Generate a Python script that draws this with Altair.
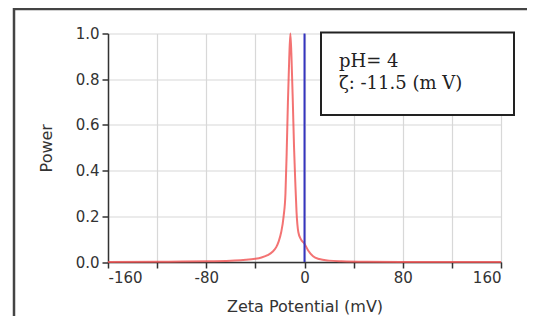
import altair as alt
import pandas as pd

# Red curve: zeta potential distribution
zeta = [-160, -120, -100, -80, -60, -50, -40, -35, -30, -26, -23, -21, -19, -17,
        -15.5, -14.5, -13.5, -12.5, -11.5, -10.5, -9.5, -8.5, -7.5, -6.5, -5, -3,
        0, 3, 7, 12, 20, 30, 50, 80, 120, 160]
power = [0, 0.001, 0.002, 0.003, 0.006, 0.009, 0.014, 0.02, 0.03, 0.045, 0.065,
         0.09, 0.13, 0.2, 0.3, 0.48, 0.7, 0.88, 1.0, 0.88, 0.7, 0.5, 0.35, 0.22,
         0.13, 0.1, 0.08, 0.05, 0.025, 0.013, 0.006, 0.003, 0.001, 0.0005, 0, 0]

# Blue reference line at 0 mV
ref_x = [0, 0]
ref_y = [0, 1]

x_ticks = list(range(-160, 161, 20))
y_ticks = [i / 10 for i in range(0, 11)]
legend_lines = ["pH= 4", "ζ: -11.5 (m V)"]

W, H = 393, 228.5

curve_df = pd.DataFrame({"zeta": zeta, "power": power})
ref_df = pd.DataFrame({"zeta": ref_x, "power": ref_y})

xscale = alt.Scale(domain=[-160, 160], nice=False, zero=False)
yscale = alt.Scale(domain=[0, 1], nice=False)

xaxis = alt.Axis(
    values=x_ticks,
    labelExpr="datum.value % 80 == 0 ? replace(datum.label, '\u2212', '-') : ''",
    title="Zeta Potential (mV)",
    titleY=49, titleBaseline="alphabetic",
    labelPadding=2,
)
yaxis = alt.Axis(
    values=y_ticks,
    labelExpr="round(datum.value * 10) % 2 == 0 ? format(datum.value, '.1f') : ''",
    title="Power",
    titleX=-57, titleY=H / 2, titleBaseline="alphabetic",
    labelPadding=3,
)

one = pd.DataFrame({"a": [0]})

frame_top = alt.Chart(one).mark_rule(color="#444444", strokeWidth=2.5).encode(
    x=alt.value(-95), x2=alt.value(430), y=alt.value(-24.5)
)
frame_left = alt.Chart(one).mark_rule(color="#444444", strokeWidth=2.5).encode(
    x=alt.value(-94), y=alt.value(-25.5), y2=alt.value(300)
)

curve = alt.Chart(curve_df).mark_line(
    color="#f05050", strokeWidth=2, opacity=0.8, interpolate="monotone"
).encode(
    x=alt.X("zeta:Q", scale=xscale, axis=xaxis),
    y=alt.Y("power:Q", scale=yscale, axis=yaxis),
)

ref = alt.Chart(ref_df).mark_line(color="#3535c0", strokeWidth=2).encode(
    x=alt.X("zeta:Q", scale=xscale),
    y=alt.Y("power:Q", scale=yscale),
)

box = alt.Chart(one).mark_rect(
    fill="white", stroke="#222222", strokeWidth=2
).encode(
    x=alt.value(213), x2=alt.value(406), y=alt.value(-1), y2=alt.value(81.5)
)

def text_layer(s, ypix):
    return alt.Chart(pd.DataFrame({"t": [s]})).mark_text(
        align="left", baseline="alphabetic", font="DejaVu Serif", fontSize=18,
        color="#222222"
    ).encode(text="t:N", x=alt.value(231), y=alt.value(ypix))

t1 = text_layer(legend_lines[0], 33.2)
t2 = text_layer(legend_lines[1], 55.5)

chart = alt.layer(frame_top, frame_left, curve, ref, box, t1, t2).properties(
    width=W, height=H,
    autosize=alt.AutoSizeParams(type="none"),
    padding={"left": 100, "top": 25.5, "right": 26, "bottom": 54},
    background="white",
).configure_view(
    stroke=None
).configure_axis(
    grid=True, gridColor="#d8d8d8", gridWidth=1.2,
    domainColor="#333333", domainWidth=1.5,
    tickColor="#333333", tickWidth=1.5, tickSize=6,
    labelFont="DejaVu Sans", labelFontSize=15, labelColor="#333333",
    titleFont="DejaVu Sans", titleFontSize=16, titleColor="#333333",
    titleFontWeight="normal",
)

chart.save("out.html", embed_options={"renderer": "svg", "actions": False})
